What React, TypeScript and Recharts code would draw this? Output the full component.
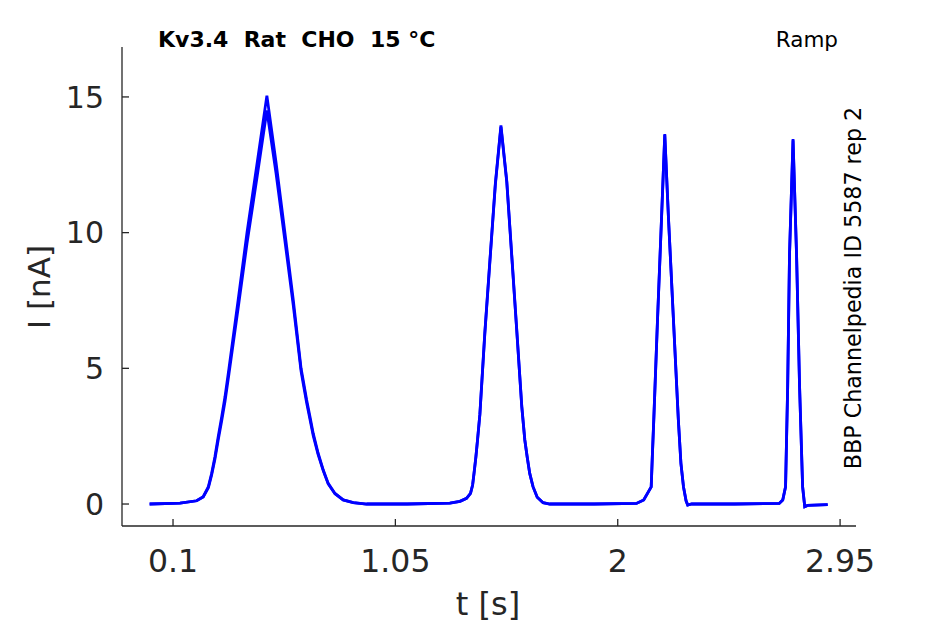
import React from 'react';
import { LineChart, Line, XAxis, YAxis } from 'recharts';

// sample times [s] shared by both repetitions
const TIME = [
  0, 0.1, 0.13, 0.201, 0.229, 0.251, 0.265, 0.279, 0.293, 0.308, 0.322, 0.339,
  0.378, 0.416, 0.46, 0.501, 0.54, 0.578, 0.614, 0.647, 0.656, 0.671, 0.685,
  0.699, 0.72, 0.742, 0.763, 0.792, 0.827, 0.87, 0.927, 1.1,
  1.283, 1.326, 1.354, 1.371, 1.38, 1.386, 1.394, 1.401, 1.411, 1.432, 1.454,
  1.477, 1.501, 1.526, 1.547, 1.568, 1.59, 1.603, 1.613, 1.624, 1.638, 1.656,
  1.681, 1.71, 1.9,
  2.08, 2.111, 2.143, 2.148, 2.154, 2.17, 2.187, 2.201, 2.217, 2.238, 2.259,
  2.27, 2.281, 2.292, 2.299, 2.316, 2.5,
  2.69, 2.705, 2.717, 2.726, 2.734, 2.749, 2.764, 2.777, 2.79, 2.799, 2.811,
  2.897,
];

// current [nA], rep 1
const CURRENT_REP1 = [
  0, 0.02, 0.03, 0.12, 0.27, 0.64, 1.13, 1.74, 2.48, 3.22, 3.95, 5.0,
  7.5, 10.0, 12.6, 15.05, 12.6, 10.0, 7.5, 5.0, 4.57, 3.83, 3.22,
  2.6, 1.87, 1.25, 0.76, 0.39, 0.15, 0.05, 0, 0,
  0.03, 0.1, 0.21, 0.39, 0.7, 1.13, 1.74, 2.36, 3.3, 6.3, 9.0,
  11.8, 13.95, 11.9, 9.2, 6.5, 3.6, 2.36, 1.74, 1.13, 0.64, 0.25,
  0.05, 0, 0,
  0.02, 0.15, 0.63, 1.8, 3.1, 6.8, 10.5, 13.63, 10.5, 6.8, 3.1,
  1.5, 0.63, 0.12, -0.04, 0, 0,
  0.02, 0.15, 0.63, 4.3, 9.2, 13.45, 9.2, 4.3, 0.63, -0.1, -0.05,
  -0.02,
];

// current [nA], rep 2 (slightly lower first peak)
const CURRENT_REP2 = [
  0, 0.02, 0.03, 0.12, 0.26, 0.6, 1.07, 1.65, 2.36, 3.07, 3.78, 4.8,
  7.2, 9.6, 12.1, 14.5, 12.2, 9.7, 7.3, 4.9, 4.45, 3.72, 3.12,
  2.52, 1.82, 1.22, 0.74, 0.38, 0.15, 0.05, 0, 0,
  0.03, 0.1, 0.21, 0.39, 0.7, 1.13, 1.74, 2.36, 3.3, 6.25, 8.95,
  11.75, 13.9, 11.85, 9.15, 6.45, 3.6, 2.36, 1.74, 1.13, 0.64, 0.25,
  0.05, 0, 0,
  0.02, 0.15, 0.63, 1.8, 3.1, 6.8, 10.5, 13.6, 10.5, 6.8, 3.1,
  1.5, 0.63, 0.12, -0.04, 0, 0,
  0.02, 0.15, 0.63, 4.3, 9.2, 13.4, 9.2, 4.3, 0.63, -0.1, -0.05,
  -0.02,
];

const X_TICKS = [0.1, 1.05, 2, 2.95];
const Y_TICKS = [0, 5, 10, 15];

const rep1 = TIME.map((t, k) => ({ t, i: CURRENT_REP1[k] }));
const rep2 = TIME.map((t, k) => ({ t, i: CURRENT_REP2[k] }));

const FONT = '"DejaVu Sans", sans-serif';
const AXIS = '#262626';

export default function App() {
  return (
    <div style={{ position: 'absolute', left: 0, top: 0, width: 945, height: 624, background: '#fff' }}>
      <LineChart
        width={945}
        height={624}
        margin={{ top: 47, right: 89, bottom: 38, left: 62 }}
      >
        <XAxis
          type="number"
          dataKey="t"
          domain={[-0.118, 3.018]}
          ticks={X_TICKS}
          allowDataOverflow
          height={60}
          tickSize={-7}
          tickMargin={31}
          tick={{ fontSize: 31.5, fill: AXIS, fontFamily: FONT }}
          stroke={AXIS}
          strokeWidth={1.3}
        />
        <YAxis
          type="number"
          dataKey="i"
          domain={[-0.81, 16.84]}
          ticks={Y_TICKS}
          allowDataOverflow
          width={60}
          tickSize={-7}
          tickMargin={25}
          tick={{ fontSize: 30, fill: AXIS, fontFamily: FONT }}
          stroke={AXIS}
          strokeWidth={1.3}
        />
        <Line data={rep1} dataKey="i" type="linear" stroke="#0000ff" strokeWidth={2.8} dot={false} isAnimationActive={false} />
        <Line data={rep2} dataKey="i" type="linear" stroke="#0000ff" strokeWidth={2.8} dot={false} isAnimationActive={false} />
      </LineChart>
      <svg width={945} height={624} style={{ position: 'absolute', left: 0, top: 0, pointerEvents: 'none' }}>
        <text x={158} y={47} fontFamily={FONT} fontSize={22} fontWeight="bold" fill="#000" style={{ whiteSpace: 'pre' }}>
          {'Kv3.4  Rat  CHO  15 °C'}
        </text>
        <text x={838} y={47} fontFamily={FONT} fontSize={21.5} fill="#000" textAnchor="end">
          Ramp
        </text>
        <text
          x={0}
          y={0}
          transform="translate(861,288) rotate(-90)"
          fontFamily={FONT}
          fontSize={22.2}
          fill="#000"
          textAnchor="middle"
        >
          BBP Channelpedia ID 5587 rep 2
        </text>
        <text x={488} y={615} fontFamily={FONT} fontSize={32} fill={AXIS} textAnchor="middle">
          t [s]
        </text>
        <text
          x={0}
          y={0}
          transform="translate(50,287) rotate(-90)"
          fontFamily={FONT}
          fontSize={31}
          fill={AXIS}
          textAnchor="middle"
        >
          I [nA]
        </text>
      </svg>
    </div>
  );
}
